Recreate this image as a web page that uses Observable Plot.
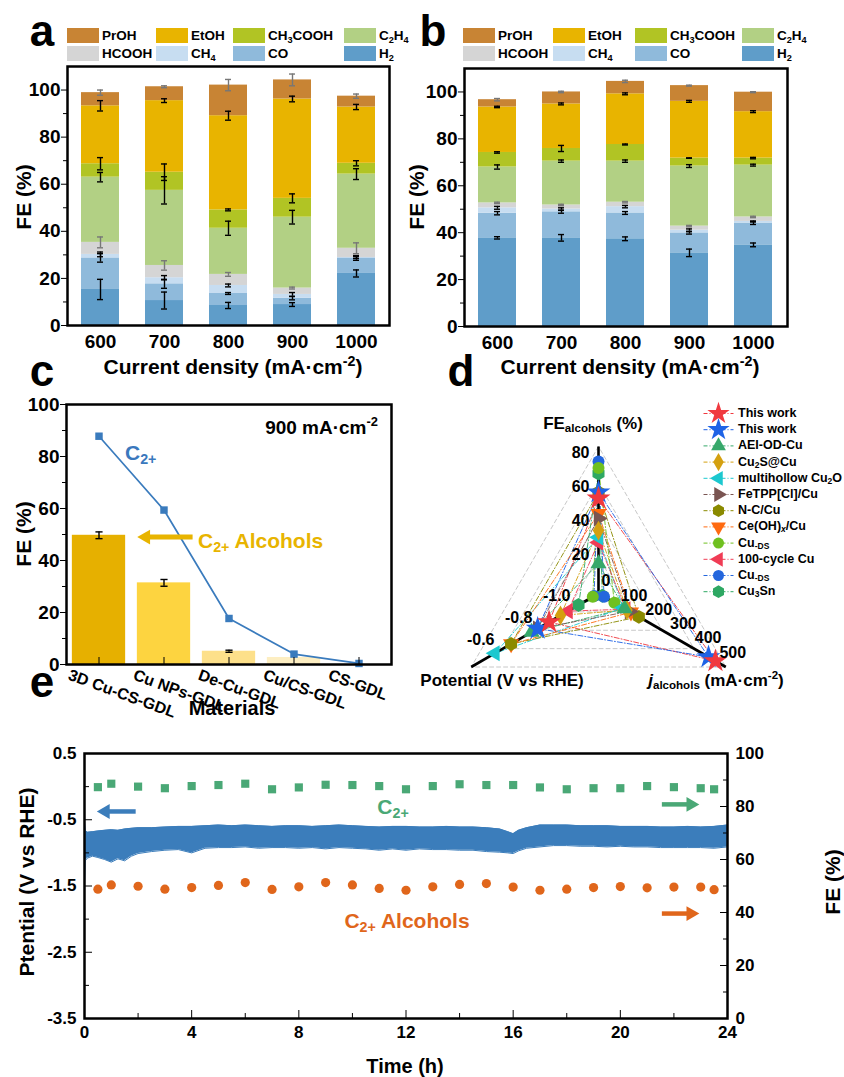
<!DOCTYPE html>
<html>
<head>
<meta charset="utf-8">
<script src="https://cdn.jsdelivr.net/npm/d3@7"></script>
<script src="https://cdn.jsdelivr.net/npm/@observablehq/plot@0.6"></script>
<style>
html,body{margin:0;padding:0;background:#fff;}
#fig{position:relative;width:844px;height:1077px;overflow:hidden;background:#fff;font-family:"Liberation Sans",Arial,Helvetica,sans-serif;}
.t{position:absolute;font-weight:bold;white-space:nowrap;line-height:1;color:#000;}
.t sub{font-size:0.68em;vertical-align:-0.32em;line-height:0;}
.t sup{font-size:0.68em;vertical-align:0.55em;line-height:0;}
.sw{position:absolute;width:32px;height:15px;}
</style>
</head>
<body>
<div id="fig"></div>
<script>
// ================= DATA =================
const currents = ["600", "700", "800", "900", "1000"];
const products = ["H2", "CO", "CH4", "HCOOH", "C2H4", "CH3COOH", "EtOH", "PrOH"];
const productColors = ["#5f9dc9", "#8fbadb", "#c7ddf1", "#d5d5d5", "#b2d084", "#b1c424", "#e8b400", "#c88434"];
const productLabels = ["H<sub>2</sub>", "CO", "CH<sub>4</sub>", "HCOOH", "C<sub>2</sub>H<sub>4</sub>", "CH<sub>3</sub>COOH", "EtOH", "PrOH"];
const legendRow1 = ["PrOH", "EtOH", "CH3COOH", "C2H4"];
const legendRow2 = ["HCOOH", "CH4", "CO", "H2"];
const feTicks = [0, 20, 40, 60, 80, 100];
const feMinorTicks = [10, 30, 50, 70, 90];

// (a) FE per product, one value per current density
const aH2      = [15.3, 10.6, 8.5, 8.9, 22.1];
const aCO      = [13.4, 7.1, 5.1, 2.7, 6.6];
const aCH4     = [1.5, 2.6, 3.4, 1.6, 0.2];
const aHCOOH   = [5.1, 5.2, 4.7, 2.7, 3.9];
const aC2H4    = [27.7, 31.9, 19.6, 30.1, 31.5];
const aCH3COOH = [5.7, 7.7, 7.8, 8.0, 4.6];
const aEtOH    = [24.6, 30.4, 40.0, 42.2, 23.9];
const aPrOH    = [5.6, 5.9, 13.0, 8.1, 4.6];
const aErrH2      = [4.3, 3.6, 1.3, 0.8, 1.5];
const aErrCO      = [1.8, 1.9, 0.4, 0.7, 1.0];
const aErrCH4     = [1.0, 0.9, 0.6, 0.8, 0.4];
const aErrHCOOH   = [2.3, 2.0, 0.8, 0.4, 2.3];
const aErrC2H4    = [2.0, 5.8, 3.0, 2.9, 2.3];
const aErrCH3COOH = [2.6, 3.5, 0.4, 1.9, 1.1];
const aErrEtOH    = [2.2, 0.8, 1.9, 1.2, 1.1];
const aErrPrOH    = [1.1, 0.4, 2.4, 2.5, 0.9];

// (b)
const bH2      = [37.8, 37.8, 37.4, 31.4, 34.8];
const bCO      = [10.5, 11.1, 11.0, 8.5, 9.3];
const bCH4     = [2.3, 1.2, 2.7, 1.2, 0.7];
const bHCOOH   = [2.1, 1.7, 1.9, 1.7, 1.9];
const bC2H4    = [15.3, 18.7, 17.5, 25.6, 22.1];
const bCH3COOH = [6.2, 5.4, 7.1, 3.4, 3.0];
const bEtOH    = [19.4, 19.0, 21.6, 24.2, 19.8];
const bPrOH    = [3.1, 5.1, 5.3, 6.7, 8.3];
const bErrH2      = [0.5, 1.4, 0.8, 1.6, 0.8];
const bErrCO      = [0.7, 0.6, 0.6, 0.5, 0.6];
const bErrCH4     = [0.6, 0.5, 0.5, 0.5, 0.2];
const bErrHCOOH   = [0.3, 0.3, 0.3, 0.3, 0.3];
const bErrC2H4    = [0.9, 0.5, 0.5, 0.6, 0.4];
const bErrCH3COOH = [0.3, 1.3, 0.2, 0.1, 0.3];
const bErrEtOH    = [0.3, 0.4, 0.4, 0.4, 0.4];
const bErrPrOH    = [0.5, 0.3, 0.5, 0.2, 0.2];

// (c)
const materials = ["3D Cu-CS-GDL", "Cu NPs-GDL", "De-Cu-GDL", "Cu/CS-GDL", "CS-GDL"];
const cAlcohol = [49.7, 31.4, 5.1, 2.7, 0];
const cAlcoholErr = [1.3, 1.3, 0.4, 0, 0];
const cC2 = [87.8, 59.4, 17.7, 4.0, 0.4];
const cBarColors = ["#e6b000", "#fdd440", "#fde08a", "#fdeec2", "#fff6dc"];

// (d)
const dNames   = ["This work", "This work", "AEI-OD-Cu", "Cu2S@Cu", "multihollow Cu2O", "FeTPP[Cl]/Cu", "N-C/Cu", "Ce(OH)x/Cu", "Cu-DS", "100-cycle Cu", "Cu-DS", "Cu3Sn"];
const dLabels  = ["This work", "This work", "AEI-OD-Cu", "Cu<sub>2</sub>S@Cu", "multihollow Cu<sub>2</sub>O", "FeTPP[Cl]/Cu", "N-C/Cu", "Ce(OH)<sub><i>x</i></sub>/Cu", "Cu<sub>-DS</sub>", "100-cycle Cu", "Cu<sub>-DS</sub>", "Cu<sub>3</sub>Sn"];
const dColors  = ["#f0393f", "#1f63e6", "#36a86a", "#d4a010", "#1cc8cf", "#7a5552", "#8a8a00", "#ff6a10", "#6fc020", "#f03c55", "#2466dd", "#2ea863"];
const dSymbols = ["star", "star", "triangle", "diamond", "triangle", "triangle", "hexagon", "triangle", "circle", "triangle", "circle", "hexagon"];
const dRotate  = [0, 0, 0, 0, -90, 90, 0, 180, 0, -90, 0, 0];
const dFE      = [53.4, 57.0, 15.0, 34.5, 30.5, 41.6, 57.0, 44.5, 71.3, 27.5, 75.2, 68.0];
const dPot     = [-0.96, -0.90, -0.868, -1.02, -0.675, -0.90, -0.76, -0.76, -1.19, -1.06, -1.197, -1.115];
const dJ       = [458, 430, 90, 100, 85, 110, 148, 116, 49, 95, 7, 0];
const dFETicks = [0, 20, 40, 60, 80];
const dPotTicks = [-1.0, -0.8, -0.6];
const dJTicks = [100, 200, 300, 400, 500];

// (e)
const eTime = [0, 0.03, 0.1, 0.3, 0.5, 0.75, 1, 1.25, 1.5, 1.75, 2,
  2.5, 3, 3.5, 4, 4.5, 5, 5.5, 6, 6.5, 7, 7.5, 8, 8.5, 9, 9.5, 10, 10.5, 11, 11.5, 12, 12.5, 13, 13.5, 14, 14.5, 15, 15.5,
  15.8, 16, 16.2, 16.5, 17, 17.5, 18, 18.5, 19, 19.5, 20, 20.5, 21, 21.5, 22, 22.5, 23, 23.5, 24];
const eUpper = [-0.53, -0.66, -0.69, -0.68, -0.67, -0.66, -0.65, -0.66, -0.64, -0.63, -0.62,
  -0.62, -0.61, -0.60, -0.60, -0.59, -0.58, -0.59, -0.58, -0.59, -0.60, -0.59, -0.59, -0.60, -0.59, -0.58, -0.59, -0.60, -0.61, -0.60, -0.60, -0.61, -0.61, -0.60, -0.61, -0.61, -0.62, -0.64,
  -0.68, -0.71, -0.66, -0.62, -0.58, -0.58, -0.58, -0.59, -0.59, -0.59, -0.60, -0.60, -0.60, -0.61, -0.61, -0.60, -0.61, -0.60, -0.58];
const eLower = [-1.46, -1.12, -1.08, -1.05, -1.07, -1.10, -1.14, -1.09, -1.12, -1.05, -1.01,
  -0.98, -0.96, -0.95, -1.00, -0.93, -0.92, -0.92, -0.91, -0.93, -0.92, -0.92, -0.93, -0.92, -0.94, -0.92, -0.93, -0.94, -0.96, -0.94, -0.96, -0.94, -0.95, -0.95, -0.96, -0.96, -0.98, -0.99,
  -1.00, -1.01, -0.97, -0.93, -0.91, -0.89, -0.89, -0.90, -0.90, -0.91, -0.90, -0.91, -0.91, -0.92, -0.92, -0.92, -0.92, -0.93, -0.91];
const eFETime = [0.5, 1, 2, 3, 4, 5, 6, 7, 8, 9, 10, 11, 12, 13, 14, 15, 16, 17, 18, 19, 20, 21, 22, 23, 23.5];
const eC2  = [87.3, 88.6, 87.5, 86.9, 87.7, 88.1, 88.6, 86.5, 87.2, 88.2, 88.1, 87.7, 86.5, 87.7, 88.4, 88.1, 88.1, 87.2, 86.5, 86.9, 86.9, 87.7, 87.3, 86.9, 86.5];
const eAlc = [48.8, 50.4, 49.9, 48.8, 49.4, 50.2, 51.3, 48.7, 49.7, 51.3, 50.4, 49.1, 48.4, 49.7, 50.6, 50.9, 49.6, 48.4, 48.8, 49.4, 49.8, 49.3, 49.6, 49.6, 48.6];
const ePotTicks = [0.5, -0.5, -1.5, -2.5, -3.5];
const ePotMinor = [0, -1, -2, -3];
const eTimeTicks = [0, 4, 8, 12, 16, 20, 24];
const eTimeMinor = [2, 6, 10, 14, 18, 22];

// ================= HELPERS =================
const FONT = '"Liberation Sans", Arial, Helvetica, sans-serif';
const fig = document.getElementById("fig");
const baseStyle = (size) => ({fontFamily: FONT, fontSize: size + "px", fontWeight: "bold", color: "#000", background: "transparent", overflow: "visible"});
function addPlot(p, left, top) {
  p.style.position = "absolute"; p.style.left = left + "px"; p.style.top = top + "px"; p.style.maxWidth = "none";
  fig.appendChild(p);
}
function txt(html, x, y, o = {}) {
  const d = document.createElement("div");
  d.className = "t";
  d.innerHTML = html;
  d.style.fontSize = (o.size || 19) + "px";
  if (o.color) d.style.color = o.color;
  d.style.left = x + "px"; d.style.top = y + "px";
  const tx = o.anchor === "start" ? "0%" : o.anchor === "end" ? "-100%" : "-50%";
  d.style.transform = `translate(${tx},-50%)` + (o.rotate ? ` rotate(${o.rotate}deg)` : "");
  fig.appendChild(d);
  return d;
}
function swatch(color, x, y) {
  const d = document.createElement("div");
  d.className = "sw"; d.style.background = color; d.style.left = x + "px"; d.style.top = y + "px";
  fig.appendChild(d);
}

// ================= (a) & (b) stacked bars =================
function stackedPlot(vals, errs, width, m) {
  const rows = [];
  currents.forEach((c, ci) => {
    let cum = 0;
    products.forEach((p, pi) => {
      cum += vals[pi][ci];
      rows.push({current: c, product: p, value: vals[pi][ci], top: cum, err: errs[pi][ci], gray: p === "HCOOH" || p === "PrOH"});
    });
  });
  const errMarks = (data, color) => [
    Plot.ruleX(data, {x: "current", y1: d => d.top - d.err, y2: d => d.top + d.err, stroke: color, strokeWidth: 1.4}),
    Plot.tickY(data, {x: "current", y: d => d.top + d.err, stroke: color, strokeWidth: 1.4, inset: 16}),
    Plot.tickY(data, {x: "current", y: d => d.top - d.err, stroke: color, strokeWidth: 1.4, inset: 16})
  ];
  return Plot.plot({
    width, height: 380, marginLeft: m.left, marginRight: m.right, marginTop: m.top, marginBottom: m.bottom,
    style: baseStyle(19),
    x: {domain: currents, paddingInner: 0.4, paddingOuter: 0.2, label: null},
    y: {domain: [0, 110], label: null},
    color: {domain: products, range: productColors},
    marks: [
      Plot.barY(rows, {x: "current", y: "value", fill: "product"}),
      ...errMarks(rows.filter(d => !d.gray), "#000"),
      ...errMarks(rows.filter(d => d.gray), "#777"),
      Plot.axisY(feTicks, {tickSize: 6, tickPadding: 1, label: null}),
      Plot.axisY(feMinorTicks, {tickSize: 4, tickFormat: () => "", label: null}),
      Plot.axisX({tickSize: 0, tickPadding: 9, label: null}),
      Plot.frame({stroke: "#000", strokeWidth: 2.5})
    ]
  });
}
addPlot(stackedPlot([aH2, aCO, aCH4, aHCOOH, aC2H4, aCH3COOH, aEtOH, aPrOH],
  [aErrH2, aErrCO, aErrCH4, aErrHCOOH, aErrC2H4, aErrCH3COOH, aErrEtOH, aErrPrOH], 420,
  {left: 67, right: 31, top: 66, bottom: 55}), 0, 0);
addPlot(stackedPlot([bH2, bCO, bCH4, bHCOOH, bC2H4, bCH3COOH, bEtOH, bPrOH],
  [bErrH2, bErrCO, bErrCH4, bErrHCOOH, bErrC2H4, bErrCH3COOH, bErrEtOH, bErrPrOH], 424,
  {left: 44, right: 57, top: 68, bottom: 54}), 420, 0);

function stackLegend(cols) {
  [legendRow1, legendRow2].forEach((row, ri) => {
    row.forEach((p, ci) => {
      const pi = products.indexOf(p);
      swatch(productColors[pi], cols[ci], ri === 0 ? 28 : 46);
      txt(productLabels[pi], cols[ci] + 35, ri === 0 ? 36 : 54, {anchor: "start", size: 13.5});
    });
  });
}
stackLegend([67, 156, 233, 344]);
stackLegend([463, 553, 635, 742]);

// ================= (c) =================
const cRows = materials.map((m, i) => ({i, m, alc: cAlcohol[i], err: cAlcoholErr[i], c2: cC2[i], color: cBarColors[i]}));
const cErrRows = cRows.filter(d => d.err > 0);
const cArrow = {from: 1.44, to: 0.72, y: 49};
addPlot(Plot.plot({
  width: 420, height: 340, marginLeft: 66, marginRight: 29, marginTop: 34, marginBottom: 46,
  style: baseStyle(19),
  x: {domain: [-0.5, 4.5], label: null},
  y: {domain: [0, 100], label: null},
  color: {type: "identity"},
  marks: [
    Plot.rect(cRows, {x1: d => d.i - 0.41, x2: d => d.i + 0.41, y1: 0, y2: "alc", fill: "color"}),
    Plot.ruleX(cErrRows, {x: "i", y1: d => d.alc - d.err, y2: d => d.alc + d.err, strokeWidth: 1.4}),
    Plot.link(cErrRows, {x1: d => d.i - 0.055, x2: d => d.i + 0.055, y1: d => d.alc + d.err, y2: d => d.alc + d.err, strokeWidth: 1.4}),
    Plot.link(cErrRows, {x1: d => d.i - 0.055, x2: d => d.i + 0.055, y1: d => d.alc - d.err, y2: d => d.alc - d.err, strokeWidth: 1.4}),
    Plot.line(cRows, {x: "i", y: "c2", stroke: "#3a7bbd", strokeWidth: 1.7}),
    Plot.dot(cRows, {x: "i", y: "c2", symbol: "square", fill: "#3a7bbd", r: 4.2}),
    Plot.link([cArrow], {x1: "from", x2: "to", y1: "y", y2: "y", stroke: "#e8b400", strokeWidth: 5}),
    Plot.dot([cArrow], {x: "to", y: "y", symbol: "triangle", rotate: -90, fill: "#e8b400", r: 5.5}),
    Plot.axisY(feTicks, {tickSize: 6, tickPadding: 1}),
    Plot.axisY(feMinorTicks, {tickSize: 4, tickFormat: () => ""}),
    Plot.axisX([0, 1, 2, 3, 4], {tickSize: -7, tickFormat: () => ""}),
    Plot.axisX([0, 1, 2, 3, 4], {tickSize: 0, tickPadding: 9, tickRotate: 20, tickFormat: i => materials[i], fontSize: 16, dx: -30, dy: 1}),
    Plot.frame({stroke: "#000", strokeWidth: 2.5})
  ]
}), 0, 370);

// ================= (d) =================
const R = 147;
const dCenter = [178, 223];
const rFE = d3.scaleLinear([0, 84], [0.03, 1]);
const rPot = d3.scaleLinear([-1.2, -0.55], [0.03, 1]);
const rJ = d3.scaleLinear([0, 500], [0.03, 1]);
const angFE = 90, angPot = 210, angJ = 330;
const polar = (r, ang) => ({x: r * Math.cos(ang * Math.PI / 180), y: r * Math.sin(ang * Math.PI / 180)});
const dSeries = dNames.map((n, i) => ({
  i, name: n, color: dColors[i], symbol: dSymbols[i], rotate: dRotate[i],
  r: dSymbols[i] === "star" ? 7.5 : 6,
  pts: [polar(rFE(dFE[i]), angFE), polar(rPot(dPot[i]), angPot), polar(rJ(dJ[i]), angJ)]
}));
const dLines = dSeries.flatMap(s => [...s.pts, s.pts[0]].map(p => ({...p, z: s.i, color: s.color})));
const gridLevels = [0.25, 0.5, 0.75, 1];
const gridLines = gridLevels.flatMap(l => [angFE, angPot, angJ, angFE].map(a => ({...polar(l, a), z: l})));
const axesLines = [angFE, angPot, angJ].map(a => ({x1: 0, y1: 0, x2: polar(1, a).x, y2: polar(1, a).y}));
const dMarks = [
  Plot.line(gridLines, {x: "x", y: "y", z: "z", stroke: "#c8c8c8", strokeWidth: 1, strokeDasharray: "4,3"}),
  Plot.line(dLines, {x: "x", y: "y", z: "z", stroke: "color", strokeWidth: 1, strokeDasharray: "5,2,1,2", strokeOpacity: 0.9}),
  Plot.link(axesLines, {x1: "x1", y1: "y1", x2: "x2", y2: "y2", stroke: "#000", strokeWidth: 2.6}),
];
[...dSeries].reverse().forEach(s => {
  dMarks.push(Plot.dot(s.pts, {x: "x", y: "y", symbol: s.symbol, rotate: s.rotate, fill: s.color, r: s.r}));
});
dMarks.push(
  Plot.text(dFETicks.filter(v => v > 0), {x: v => polar(rFE(v), angFE).x, y: v => polar(rFE(v), angFE).y, text: v => String(v), textAnchor: "end", dx: -9, fontSize: 16}),
  Plot.text([0], {x: v => polar(rFE(v), angFE).x, y: v => polar(rFE(v), angFE).y, text: v => String(v), textAnchor: "start", dx: 3, dy: -8, fontSize: 16}),
  Plot.text(dPotTicks, {x: v => polar(rPot(v), angPot).x, y: v => polar(rPot(v), angPot).y, text: v => v.toFixed(1), dy: -22, fontSize: 16}),
  Plot.text(dJTicks, {x: v => polar(rJ(v), angJ).x, y: v => polar(rJ(v), angJ).y, text: v => String(v), dx: 7, dy: -14.5, fontSize: 16})
);
addPlot(Plot.plot({
  width: 424, height: 340, margin: 0,
  style: baseStyle(16),
  x: {domain: [-dCenter[0] / R, (424 - dCenter[0]) / R], range: [0, 424], axis: null},
  y: {domain: [-(340 - dCenter[1]) / R, dCenter[1] / R], range: [340, 0], axis: null},
  color: {type: "identity"},
  marks: dMarks
}), 420, 370);

// legend (d)
const dLegendStep = 16.2;
addPlot(Plot.plot({
  width: 40, height: 200, margin: 0,
  style: baseStyle(12),
  x: {domain: [0, 1], range: [3, 33], axis: null},
  y: {domain: [0, 11], range: [8, 8 + 11 * dLegendStep], axis: null},
  color: {type: "identity"},
  marks: [
    Plot.link(dSeries, {x1: 0, x2: 1, y1: "i", y2: "i", stroke: "color", strokeWidth: 1, strokeDasharray: "4,2,1,2"}),
    ...dSeries.map(s => Plot.dot([s], {x: 0.5, y: "i", symbol: s.symbol, rotate: s.rotate, fill: s.color, r: s.r - 0.5}))
  ]
}), 700, 405);
dLabels.forEach((l, i) => txt(l, 738, 413 + i * dLegendStep, {anchor: "start", size: 12.5}));

// ================= (e) =================
const eBand = eTime.map((t, i) => ({t, hi: eUpper[i], lo: eLower[i]}));
const eFE = eFETime.map((t, i) => ({t, c2: eC2[i], alc: eAlc[i]}));
const eBlueArrow = {from: 1.91, to: 0.78, y: -0.375};
const eGreenArrow = {from: 21.55, to: 22.63, y: 80.8};
const eOrangeArrow = {from: 21.55, to: 22.63, y: 39.6};
const eDims = {width: 844, height: 367, marginLeft: 84, marginRight: 117, marginTop: 43, marginBottom: 59};
addPlot(Plot.plot({
  ...eDims,
  style: baseStyle(17),
  x: {domain: [0, 24], label: null},
  y: {domain: [-3.5, 0.5], label: null},
  marks: [
    Plot.areaY(eBand, {x: "t", y1: "lo", y2: "hi", fill: "#3b7dbb"}),
    Plot.line(eBand, {x: "t", y: "hi", stroke: "#3b7dbb", strokeWidth: 1}),
    Plot.line(eBand, {x: "t", y: "lo", stroke: "#3b7dbb", strokeWidth: 1}),
    Plot.link([eBlueArrow], {x1: "from", x2: "to", y1: "y", y2: "y", stroke: "#3b7dbb", strokeWidth: 4.5}),
    Plot.dot([eBlueArrow], {x: "to", y: "y", symbol: "triangle", rotate: -90, fill: "#3b7dbb", r: 5.5}),
    Plot.axisY(ePotTicks, {tickSize: -8, tickPadding: 16, tickFormat: d => d.toFixed(1)}),
    Plot.axisY(ePotMinor, {tickSize: -5, tickFormat: () => ""}),
    Plot.axisX(eTimeTicks, {tickSize: -8, tickPadding: 15}),
    Plot.axisX(eTimeMinor, {tickSize: -5, tickFormat: () => ""}),
    Plot.frame({stroke: "#000", strokeWidth: 2.5})
  ]
}), 0, 710);
addPlot(Plot.plot({
  ...eDims,
  style: baseStyle(17),
  x: {domain: [0, 24], axis: null},
  y: {domain: [0, 100], label: null},
  marks: [
    Plot.dot(eFE, {x: "t", y: "c2", symbol: "square", fill: "#4aa876", r: 4.6}),
    Plot.dot(eFE, {x: "t", y: "alc", fill: "#e0661b", r: 4.6}),
    Plot.link([eGreenArrow], {x1: "from", x2: "to", y1: "y", y2: "y", stroke: "#4aa876", strokeWidth: 4.5}),
    Plot.dot([eGreenArrow], {x: "to", y: "y", symbol: "triangle", rotate: 90, fill: "#4aa876", r: 5.5}),
    Plot.link([eOrangeArrow], {x1: "from", x2: "to", y1: "y", y2: "y", stroke: "#e0661b", strokeWidth: 4.5}),
    Plot.dot([eOrangeArrow], {x: "to", y: "y", symbol: "triangle", rotate: 90, fill: "#e0661b", r: 5.5}),
    Plot.axisY(feTicks, {anchor: "right", tickSize: -8, tickPadding: 16}),
    Plot.axisY(feMinorTicks, {anchor: "right", tickSize: -5, tickFormat: () => ""})
  ]
}), 0, 710);

// ================= TEXT =================
txt("a", 42, 31, {size: 44});
txt("b", 433, 31, {size: 44});
txt("c", 42, 371, {size: 44});
txt("d", 461, 371, {size: 44});
txt("e", 42, 682, {size: 44});
txt("FE (%)", 23, 197, {size: 21, rotate: -90});
txt("FE (%)", 416, 197, {size: 21, rotate: -90});
txt("Current density (mA·cm<sup>-2</sup>)", 233, 366, {size: 21});
txt("Current density (mA·cm<sup>-2</sup>)", 630, 366, {size: 21});
txt("FE (%)", 23, 534, {size: 21, rotate: -90});
txt("Materials", 232, 708, {size: 20});
txt("900 mA·cm<sup>-2</sup>", 378, 427, {size: 19, anchor: "end"});
txt("C<sub>2+</sub>", 125, 452, {size: 21, anchor: "start", color: "#3a78bd"});
txt("C<sub>2+</sub> Alcohols", 198, 540, {size: 21, anchor: "start", color: "#e8b400"});
txt("FE<sub>alcohols</sub> (%)", 593, 423, {size: 17});
txt("Potential (V vs RHE)", 502, 680, {size: 17});
txt("<i>j</i><sub>alcohols</sub> (mA·cm<sup>-2</sup>)", 716, 680, {size: 17});
txt("C<sub>2+</sub>", 393, 806, {size: 21, color: "#4aa876"});
txt("C<sub>2+</sub> Alcohols", 407, 920, {size: 21, color: "#e0661b"});
txt("Ptential (V vs RHE)", 26, 882, {size: 21, rotate: -90});
txt("FE (%)", 832, 882, {size: 21, rotate: -90});
txt("Time (h)", 405, 1066, {size: 20});
</script>
</body>
</html>
